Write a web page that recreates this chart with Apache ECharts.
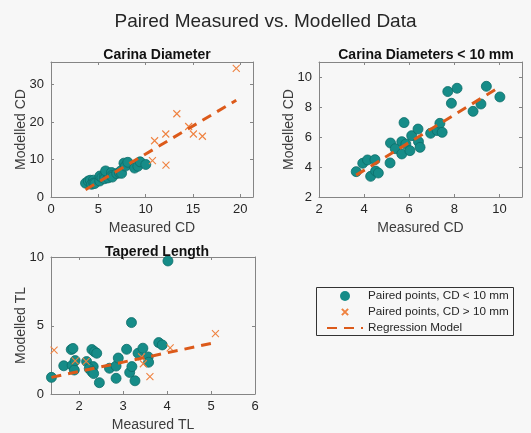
<!DOCTYPE html>
<html>
<head>
<meta charset="utf-8">
<script src="https://cdn.jsdelivr.net/npm/echarts@6/dist/echarts.min.js"></script>
<style>
  html, body { margin: 0; padding: 0; background: #f7f7f7; }
  #chart { width: 531px; height: 433px; }
</style>
</head>
<body>
<div id="chart"></div>
<script>
// Carina diameter, cases with CD < 10 mm (measured, modelled)
const cdMeasuredSmall = [3.65, 3.94, 4.15, 4.48, 4.29, 4.51, 4.63, 5.15, 5.17, 5.38, 5.67, 5.85, 5.67, 6.03, 6.11, 5.77, 6.39, 6.41, 6.48, 6.95, 7.24, 7.36, 7.46, 7.71, 7.87, 8.12, 8.83, 9.18, 9.42, 10.02];
const cdModelledSmall = [3.69, 4.25, 4.47, 4.49, 3.38, 3.73, 3.60, 4.27, 5.60, 5.22, 5.69, 5.53, 4.87, 5.09, 6.09, 6.96, 6.53, 5.69, 5.31, 6.25, 6.43, 6.91, 6.31, 9.03, 8.25, 9.25, 7.71, 8.20, 9.38, 8.67];

// Carina diameter, cases with CD > 10 mm
const cdMeasuredLarge = [10.95, 12.13, 13.30, 14.55, 15.05, 16.00, 10.72, 12.15, 19.58];
const cdModelledLarge = [15.0, 16.8, 22.2, 18.8, 16.8, 16.2, 9.7, 8.5, 34.3];

// Tapered length
const tlMeasuredSmall = [1.37, 1.65, 1.82, 1.86, 1.84, 1.89, 1.91, 2.17, 2.29, 2.35, 2.40, 2.32, 2.23, 2.29, 2.33, 2.46, 2.69, 2.84, 2.89, 2.84, 3.08, 3.19, 3.15, 3.20, 3.27, 3.34, 3.45, 3.57, 3.58, 3.81, 3.89, 4.02];
const tlModelledSmall = [1.22, 2.07, 3.26, 3.34, 2.10, 1.76, 2.45, 2.38, 3.26, 3.10, 2.99, 2.01, 1.86, 1.64, 1.50, 0.83, 1.89, 2.05, 2.64, 1.15, 3.28, 5.24, 1.58, 2.01, 0.97, 2.99, 3.36, 2.72, 2.33, 3.77, 3.60, 9.76];
const tlMeasuredLarge = [1.43, 1.91, 2.16, 3.42, 3.46, 3.61, 4.07, 5.10];
const tlModelledLarge = [3.22, 2.43, 2.40, 2.72, 2.22, 1.27, 3.38, 4.43];

// Regression model end points (fit x-range, modelled value)
const cdFitX = [3.65, 19.58];
const cdFitY = [1.95, 25.8];
const cdSmallFitX = [3.65, 10.02];
const cdSmallFitY = [3.46, 9.35];
const tlFitX = [1.37, 5.09];
const tlFitY = [1.22, 3.77];

// Tick labels
const cdXTicks = [0, 5, 10, 15, 20];
const cdYTicks = [0, 10, 20, 30];
const cdSmallTicks = [2, 4, 6, 8, 10];
const tlXTicks = [2, 3, 4, 5, 6];
const tlYTicks = [0, 5, 10];

const FONT = '"Liberation Sans", Arial, Helvetica, sans-serif';
const AXIS_COLOR = '#858585';
const TEXT_COLOR = '#262626';
const TEAL = '#168c88';
const TEAL_EDGE = '#0d6d69';
const CROSS = '#ef8240';
const FIT = '#dc5a1a';
const CROSS_PATH = 'path://M0,0L10,10M10,0L0,10';
// same cross with empty margin so the legend glyph stays small
const CROSS_ICON = 'path://M-3,-3M0,0L10,10M10,0L0,10M13,13';

const zip = (xs, ys) => xs.map((x, i) => [x, ys[i]]);

function mainAxis(grid, min, max, ticks, name, isY, nameGap) {
  return {
    type: 'value', gridIndex: grid, min: min, max: max,
    position: isY ? 'left' : 'bottom',
    name: name, nameLocation: 'middle', nameGap: nameGap,
    nameRotate: isY ? 90 : 0,
    nameMoveOverlap: !isY,
    nameTextStyle: { fontFamily: FONT, fontSize: 14, color: '#3c3c3c' },
    axisLine: { show: true, onZero: false, lineStyle: { color: AXIS_COLOR, width: 1 } },
    axisTick: { show: true, inside: true, length: 3, customValues: ticks, lineStyle: { color: AXIS_COLOR } },
    axisLabel: { show: true, customValues: ticks, margin: isY ? 7 : 6, fontFamily: FONT, fontSize: 13, color: TEXT_COLOR },
    splitLine: { show: false }
  };
}
function mirrorAxis(grid, min, max, ticks, isY) {
  return {
    type: 'value', gridIndex: grid, min: min, max: max,
    position: isY ? 'right' : 'top',
    axisLine: { show: true, onZero: false, lineStyle: { color: AXIS_COLOR, width: 1 } },
    axisTick: { show: true, inside: true, length: 3, customValues: ticks, lineStyle: { color: AXIS_COLOR } },
    axisLabel: { show: false },
    splitLine: { show: false }
  };
}

const teal = (name, xi, data) => ({
  type: 'scatter', name: name, xAxisIndex: xi, yAxisIndex: xi, data: data,
  symbol: 'circle', symbolSize: 10,
  itemStyle: { color: TEAL, borderColor: TEAL_EDGE, borderWidth: 0.8, opacity: 1 }
});
const cross = (name, xi, data) => ({
  type: 'scatter', name: name, xAxisIndex: xi, yAxisIndex: xi, data: data,
  symbol: CROSS_PATH, symbolSize: 7,
  itemStyle: { color: 'rgba(0,0,0,0)', borderColor: CROSS, borderWidth: 1.1, opacity: 1 }
});
const fit = (name, xi, data) => ({
  type: 'line', name: name, xAxisIndex: xi, yAxisIndex: xi, data: data,
  symbol: 'none', showSymbol: false,
  lineStyle: { color: FIT, width: 3, type: [10, 7], cap: 'butt' },
  itemStyle: { color: 'rgba(0,0,0,0)' }
});

const N_SMALL = 'Paired points, CD < 10 mm';
const N_LARGE = 'Paired points, CD > 10 mm';
const N_FIT = 'Regression Model';

const subTitle = { fontFamily: FONT, fontSize: 14, fontWeight: 'bold', color: '#111' };

const chart = echarts.init(document.getElementById('chart'), null, { renderer: 'canvas' });
chart.setOption({
  backgroundColor: '#f7f7f7',
  animation: false,
  textStyle: { fontFamily: FONT },
  title: [
    { text: 'Paired Measured vs. Modelled Data', left: 'center', top: 7,
      textStyle: { fontFamily: FONT, fontSize: 19, fontWeight: 'normal', color: TEXT_COLOR } },
    { text: 'Carina Diameter', left: 152, textAlign: 'center', top: 43, textStyle: subTitle },
    { text: 'Carina Diameters < 10 mm', left: 421, textAlign: 'center', top: 43, textStyle: subTitle },
    { text: 'Tapered Length', left: 152, textAlign: 'center', top: 240, textStyle: subTitle }
  ],
  grid: [
    { left: 51, top: 62, width: 202, height: 135, containLabel: false },
    { left: 319, top: 62, width: 203, height: 135, containLabel: false },
    { left: 51, top: 257, width: 204, height: 137, containLabel: false }
  ],
  xAxis: [
    mainAxis(0, 0, 21.35, cdXTicks, 'Measured CD', false, 24),
    mainAxis(1, 2, 11, cdSmallTicks, 'Measured CD', false, 24),
    mainAxis(2, 1.36, 6, tlXTicks, 'Measured TL', false, 24),
    mirrorAxis(0, 0, 21.35, cdXTicks, false),
    mirrorAxis(1, 2, 11, cdSmallTicks, false),
    mirrorAxis(2, 1.36, 6, tlXTicks, false)
  ],
  yAxis: [
    mainAxis(0, 0, 36, cdYTicks, 'Modelled CD', true, 23),
    mainAxis(1, 2, 11, cdSmallTicks, 'Modelled CD', true, 22.5),
    mainAxis(2, 0, 10.05, tlYTicks, 'Modelled TL', true, 23),
    mirrorAxis(0, 0, 36, cdYTicks, true),
    mirrorAxis(1, 2, 11, cdSmallTicks, true),
    mirrorAxis(2, 0, 10.05, tlYTicks, true)
  ],
  legend: {
    orient: 'vertical', left: 326, top: 289, padding: 0,
    itemWidth: 36, itemHeight: 10, itemGap: 2,
    textStyle: { fontFamily: FONT, fontSize: 11.7, color: TEXT_COLOR, lineHeight: 14 },
    data: [
      { name: N_SMALL, icon: 'circle', itemStyle: { borderWidth: 0 } },
      { name: N_LARGE, icon: CROSS_ICON },
      { name: N_FIT, itemStyle: { opacity: 0 } }
    ]
  },
  graphic: [
    { type: 'rect', shape: { x: 316.5, y: 287.5, width: 197, height: 48 },
      style: { fill: 'none', stroke: '#333', lineWidth: 1 }, silent: true, z: 10 }
  ],
  series: [
    teal(N_SMALL, 0, zip(cdMeasuredSmall, cdModelledSmall)),
    cross(N_LARGE, 0, zip(cdMeasuredLarge, cdModelledLarge)),
    fit(N_FIT, 0, zip(cdFitX, cdFitY)),
    teal(N_SMALL, 1, zip(cdMeasuredSmall, cdModelledSmall)),
    fit(N_FIT, 1, zip(cdSmallFitX, cdSmallFitY)),
    teal(N_SMALL, 2, zip(tlMeasuredSmall, tlModelledSmall)),
    cross(N_LARGE, 2, zip(tlMeasuredLarge, tlModelledLarge)),
    fit(N_FIT, 2, zip(tlFitX, tlFitY))
  ]
});
</script>
</body>
</html>
